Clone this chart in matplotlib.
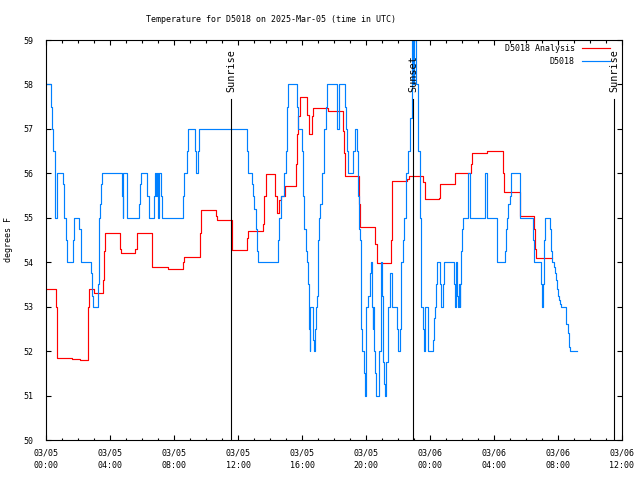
import pandas as pd
import matplotlib
matplotlib.use('Agg')
import matplotlib.pyplot as plt
import matplotlib.dates as mdates
import matplotlib.transforms as mtransforms

start = pd.Timestamp('2025-03-05 00:00')

# hours after 03/05 00:00 UTC
ana_hours = [0.00, 0.59, 0.65, 0.69, 1.63, 2.11, 2.59, 2.63, 2.69, 2.98, 3.00, 3.56, 3.63, 3.69,
             4.63, 4.69, 5.56, 5.65, 6.61, 6.63, 7.61, 8.56, 8.63, 9.59, 9.65, 10.63, 10.65,
             11.59, 11.63, 12.56, 12.63, 13.56, 13.63, 13.71, 13.75, 14.31, 14.40, 14.56, 14.65,
             14.90, 15.61, 15.69, 15.75, 15.86, 16.31, 16.40, 16.59, 16.65, 17.63, 18.56, 18.61,
             18.65, 19.56, 19.63, 20.56, 20.65, 21.56, 21.59, 21.63, 22.56, 22.65, 23.56, 23.65,
             24.56, 24.61, 25.54, 25.56, 26.58, 26.61, 27.56, 28.56, 28.61, 29.61, 30.50, 30.58,
             30.65, 31.63]
ana_temp = [53.4, 53.0, 52.25, 51.85, 51.82, 51.8, 52.2, 53.0, 53.4, 53.35, 53.3, 53.6, 54.25, 54.65,
            54.3, 54.2, 54.3, 54.65, 54.25, 53.9, 53.85, 54.0, 54.12, 54.65, 55.18, 55.05, 54.95,
            54.6, 54.27, 54.55, 54.7, 54.87, 55.5, 55.7, 55.98, 55.5, 55.11, 55.4, 55.5,
            55.71, 56.22, 56.88, 57.29, 57.71, 57.31, 56.88, 57.3, 57.47, 57.4, 56.95, 56.45,
            55.94, 55.3, 54.79, 54.4, 53.98, 54.5, 54.93, 55.83, 55.88, 55.94, 55.8, 55.43,
            55.45, 55.75, 55.95, 56.0, 56.2, 56.45, 56.5, 56.0, 55.57, 55.04, 54.75, 54.3,
            54.1, 54.1]

obs_hours = [0.00, 0.27, 0.34, 0.44, 0.52, 0.56, 0.65, 0.69, 1.04, 1.13, 1.25, 1.31, 1.69, 1.75,
             2.06, 2.15, 2.19, 2.81, 2.88, 2.94, 3.21, 3.27, 3.31, 3.36, 3.40, 3.46, 4.71, 4.77,
             4.79, 5.02, 5.06, 5.81, 5.88, 5.92, 6.31, 6.40, 6.75, 6.81, 6.88, 6.92, 7.00, 7.06,
             7.15, 7.23, 8.56, 8.63, 8.79, 8.86, 9.29, 9.38, 9.50, 9.56, 12.56, 12.63, 12.88,
             12.94, 13.00, 13.09, 13.19, 13.25, 14.52, 14.56, 14.65, 14.88, 14.98, 15.06, 15.13,
             15.65, 15.75, 16.02, 16.06, 16.13, 16.21, 16.31, 16.38, 16.44, 16.48, 16.52, 16.65,
             16.69, 16.75, 16.79, 16.86, 16.90, 16.96, 17.00, 17.06, 17.11, 17.21, 17.36, 17.48,
             17.56, 18.15, 18.29, 18.65, 18.73, 18.81, 18.88, 19.19, 19.29, 19.40, 19.50, 19.56,
             19.61, 19.65, 19.73, 19.86, 19.94, 20.02, 20.13, 20.23, 20.29, 20.34, 20.40, 20.44,
             20.50, 20.56, 20.63, 20.81, 20.90, 20.96, 21.02, 21.06, 21.11, 21.15, 21.23, 21.27,
             21.34, 21.48, 21.52, 21.59, 21.94, 22.00, 22.11, 22.15, 22.21, 22.31, 22.38, 22.52,
             22.59, 22.73, 22.84, 22.94, 22.98, 23.11, 23.25, 23.36, 23.42, 23.46, 23.56, 23.63,
             23.69, 23.84, 23.88, 24.19, 24.25, 24.31, 24.36, 24.42, 24.63, 24.69, 24.83, 24.88,
             25.48, 25.54, 25.61, 25.71, 25.77, 25.81, 25.86, 25.90, 25.96, 26.02, 26.06, 26.38,
             26.48, 27.46, 27.56, 28.19, 28.21, 28.69, 28.77, 28.84, 28.88, 28.98, 29.04, 29.61,
             29.65, 30.44, 30.50, 30.96, 31.02, 31.06, 31.11, 31.17, 31.52, 31.59, 31.65, 31.73,
             31.79, 31.86, 31.94, 32.00, 32.06, 32.15, 32.21, 32.52, 32.61, 32.67, 32.73, 33.21]
obs_temp = [58.0, 57.5, 57.0, 56.5, 55.5, 55.0, 55.5, 56.0, 55.75, 55.0, 54.5, 54.0, 54.5, 55.0,
            54.75, 54.25, 54.0, 53.75, 53.25, 53.0, 53.5, 54.5, 55.0, 55.3, 55.75, 56.0, 55.5, 55.0,
            56.0, 55.5, 55.0, 55.3, 55.75, 56.0, 55.5, 55.0, 55.5, 56.0, 55.5, 56.0, 55.0, 56.0,
            55.5, 55.0, 55.5, 56.0, 56.5, 57.0, 56.5, 56.0, 56.5, 57.0, 56.5, 56.0, 55.75,
            55.5, 55.2, 54.75, 54.25, 54.0, 54.5, 55.0, 55.5, 56.0, 56.5, 57.5, 58.0,
            57.5, 57.0, 56.5, 55.5, 54.75, 54.25, 54.0, 53.5, 52.5, 52.0, 53.0, 52.5,
            52.25, 52.0, 52.5, 53.0, 53.25, 53.75, 54.5, 55.0, 55.3, 56.0, 57.0, 57.5,
            58.0, 57.0, 58.0, 57.5, 57.0, 56.5, 56.0, 56.5, 57.0, 56.5, 55.5, 54.75,
            54.5, 52.5, 52.0, 51.5, 51.0, 53.0, 53.25, 53.75, 54.0, 53.0, 52.5, 53.0,
            52.0, 51.5, 51.0, 52.0, 53.75, 54.0, 53.25, 51.75, 51.25, 51.0, 51.25, 51.75,
            53.0, 53.25, 53.75, 53.0, 52.5, 52.0, 52.5, 53.5, 54.0, 54.5, 55.0, 56.0,
            56.5, 57.25, 59.0, 58.0, 59.0, 58.0, 56.5, 55.0, 54.0, 53.0, 52.5, 52.0,
            53.0, 52.5, 52.0, 52.25, 52.75, 53.0, 53.5, 54.0, 53.5, 53.0, 53.5, 54.0,
            53.5, 53.0, 54.0, 53.25, 53.0, 53.5, 53.0, 53.5, 54.25, 54.75, 55.0, 56.0,
            55.0, 56.0, 55.0, 54.5, 54.0, 54.25, 54.75, 55.0, 55.3, 55.5, 56.0, 55.5,
            55.0, 54.5, 54.0, 53.5, 53.0, 53.5, 54.5, 55.0, 54.75, 54.25, 54.0, 53.9,
            53.75, 53.6, 53.4, 53.25, 53.15, 53.05, 53.0, 52.6, 52.4, 52.1, 52.0, 52.0]

sun_hours = [11.56, 22.94, 35.5]
sun_labels = ['Sunrise', 'Sunset', 'Sunrise']

to_time = lambda h: start + pd.to_timedelta(h, unit='h')

plt.rcParams['font.family'] = ['DejaVu Sans Mono']
plt.rcParams['font.size'] = 6

fig = plt.figure(figsize=(6.4, 4.8), dpi=100)
ax = fig.add_axes([46.3 / 640, 40 / 480, (622 - 46.3) / 640, 400 / 480])

ax.step(to_time(ana_hours), ana_temp, where='post', color='#ff0000', lw=0.85, label='D5018 Analysis')
ax.step(to_time(obs_hours), obs_temp, where='post', color='#0080ff', lw=0.85, label='D5018')

trans = mtransforms.blended_transform_factory(ax.transData, ax.transAxes)
for h, lab in zip(sun_hours, sun_labels):
    t = mdates.date2num(to_time(h))
    ax.axvline(t, ymin=0, ymax=0.852, color='black', lw=0.8)
    ax.text(t, 0.87, lab, transform=trans, rotation=90, ha='center', va='bottom', fontsize=7.3)

ax.set_xlim(to_time(0), to_time(36))
ax.set_ylim(50, 59)
ax.set_yticks(range(50, 60))
ax.xaxis.set_major_locator(mdates.HourLocator(byhour=[0, 4, 8, 12, 16, 20]))
ax.xaxis.set_minor_locator(mdates.HourLocator())
ax.xaxis.set_major_formatter(mdates.DateFormatter('%m/%d\n%H:%M'))
for lbl in ax.get_xticklabels():
    lbl.set_linespacing(1.5)
ax.tick_params(which='both', direction='in', top=True, right=True, width=0.8)
ax.tick_params(which='major', length=3.3)
ax.tick_params(which='minor', length=1.8)
ax.tick_params(axis='x', pad=6)
ax.tick_params(axis='y', pad=9)
for s in ax.spines.values():
    s.set_linewidth(0.8)

ax.set_ylabel('degrees F', labelpad=8)
fig.text(271.5 / 640, 1 - 20 / 480, 'Temperature for D5018 on 2025-Mar-05 (time in UTC)',
         ha='center', va='center', fontsize=6)
ax.legend(loc='upper right', bbox_to_anchor=(0.98, 0.99), frameon=False, markerfirst=False,
          handlelength=3.4, handletextpad=0.9, labelspacing=0.45, borderpad=0, borderaxespad=0)

fig.savefig('out.png', dpi=100)
